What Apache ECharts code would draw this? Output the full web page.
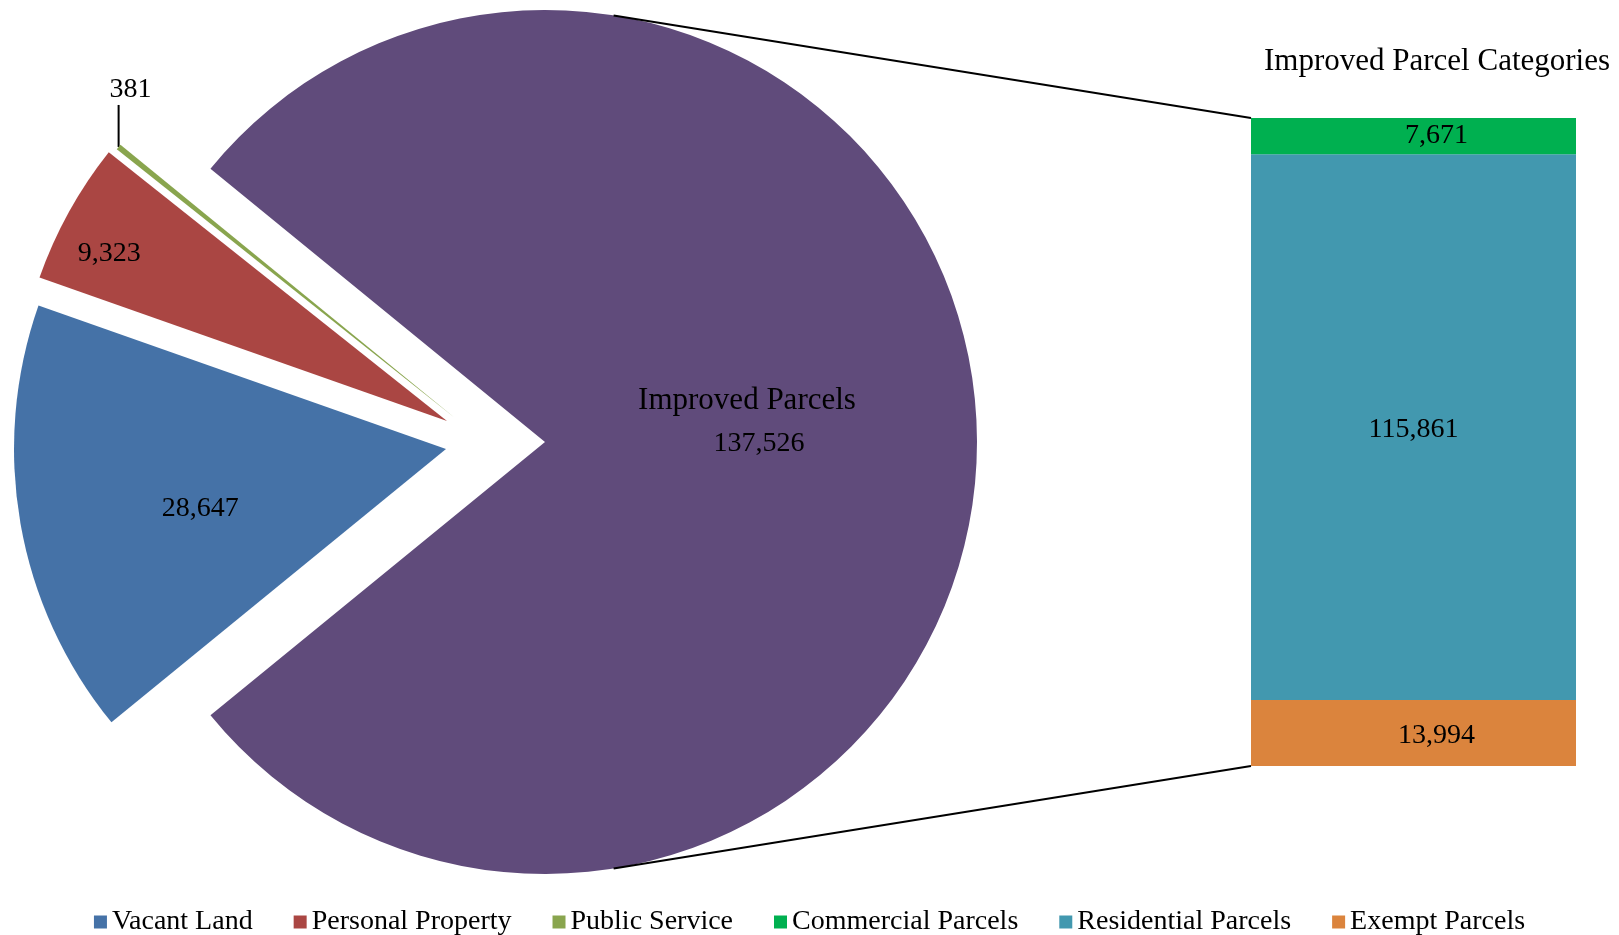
<!DOCTYPE html>
<html>
<head>
<meta charset="utf-8">
<title>Improved Parcels</title>
<script src="https://cdn.jsdelivr.net/npm/echarts@6/dist/echarts.min.js"></script>
<style>
  html, body { margin: 0; padding: 0; background: #fff; }
  #chart { width: 1619px; height: 935px; }
</style>
</head>
<body>
<div id="chart"></div>
<script>
// pie: order is the clockwise drawing order, Improved last
const pieNames = ['Vacant Land', 'Personal Property', 'Public Service', 'Improved Parcels'];
const pieValues = [28647, 9323, 381, 137526];
const pieColors = ['#4572A7', '#AA4643', '#89A54E', '#604B7B'];

// bar: bottom to top
const barNames = ['Exempt Parcels', 'Residential Parcels', 'Commercial Parcels'];
const barValues = [13994, 115861, 7671];
const barColors = ['#DB843D', '#4298AF', '#00B050'];

const legendNames = ['Vacant Land', 'Personal Property', 'Public Service',
  'Commercial Parcels', 'Residential Parcels', 'Exempt Parcels'];

// layout
const FONT = 'Liberation Serif';
const pieCenter = [545, 442];
const pieRadius = 432;
const explode = [[-99, 7], [-98, -21], [-90, -24], [0, 0]];
const pieLabelOffset = [[-30, 22], [-146, -61], [0, 0], [-17, -20]];
const barLabelOffset = [[23, 3], [0, 3], [23, 0]];
const grid = { left: 1251, top: 118, width: 325, height: 648 };

const sum = a => a.reduce((s, v) => s + v, 0);
const fmt = v => v.toLocaleString('en-US');

const pieTotal = sum(pieValues);
const startAngle = 180 + (pieTotal - pieValues[3]) / pieTotal * 180;

const blank = {
  itemStyle: { color: 'rgba(0,0,0,0)' },
  label: { show: false },
  labelLine: { show: false }
};

// outer edge point on the bisector of slice i
function edgePoint(i) {
  const before = sum(pieValues.slice(0, i));
  const a = (startAngle - (before + pieValues[i] / 2) / pieTotal * 360) * Math.PI / 180;
  const cx = pieCenter[0] + explode[i][0], cy = pieCenter[1] + explode[i][1];
  return [cx + pieRadius * Math.cos(a), cy - pieRadius * Math.sin(a)];
}

const pieSeries = pieValues.map((v, i) => {
  const before = sum(pieValues.slice(0, i));
  const after = sum(pieValues.slice(i + 1));
  const isPublic = i === 2;
  const isImproved = i === 3;
  const s = {
    type: 'pie',
    center: [pieCenter[0] + explode[i][0], pieCenter[1] + explode[i][1]],
    radius: pieRadius,
    startAngle: startAngle,
    clockwise: true,
    avoidLabelOverlap: false,
    silent: true,
    itemStyle: { borderWidth: 0 },
    data: [
      Object.assign({ value: before, name: '_b' + i }, blank),
      {
        value: v,
        name: pieNames[i],
        itemStyle: { color: pieColors[i] },
        label: {
          show: true,
          position: isPublic ? 'outside' : 'inside',
          offset: pieLabelOffset[i],
          color: '#000',
          fontFamily: FONT,
          fontSize: 28,
          formatter: isImproved
            ? '{a|Improved Parcels}\n{b|' + fmt(v) + '}'
            : fmt(v),
          rich: {
            a: { fontFamily: FONT, fontSize: 31, lineHeight: 43, color: '#000' },
            b: { fontFamily: FONT, fontSize: 28, lineHeight: 43, color: '#000', padding: [0, 0, 0, 24] }
          }
        },
        labelLine: {
          show: isPublic,
          length: 20,
          length2: 0,
          lineStyle: { color: '#000', width: 2 }
        }
      },
      Object.assign({ value: after, name: '_a' + i }, blank)
    ]
  };
  if (isPublic) {
    const e = edgePoint(i);
    s.labelLayout = function (p) {
      if (p.dataIndex !== 1) return {};
      return {
        x: e[0] + 12,
        y: e[1] - 57,
        align: 'center',
        verticalAlign: 'middle',
        labelLinePoints: [[e[0], e[1]], [e[0], e[1] - 42], [e[0], e[1] - 42]]
      };
    };
  }
  return s;
});

const barSeries = barValues.map((v, i) => ({
  type: 'bar',
  name: barNames[i],
  stack: 'improved',
  barWidth: '100%',
  silent: true,
  data: [v],
  itemStyle: { color: barColors[i] },
  label: {
    show: true,
    position: 'inside',
    offset: barLabelOffset[i],
    color: '#000',
    fontFamily: FONT,
    fontSize: 28,
    formatter: p => fmt(p.value)
  }
}));

// connector lines: tangents from the bar corners to the pie circle
function tangent(px, py, sign) {
  const dx = px - pieCenter[0], dy = py - pieCenter[1];
  const d = Math.hypot(dx, dy);
  const t = Math.atan2(dy, dx) + sign * Math.acos(pieRadius / d);
  return [pieCenter[0] + pieRadius * Math.cos(t), pieCenter[1] + pieRadius * Math.sin(t)];
}
const barBottom = grid.top + grid.height;
const tTop = tangent(grid.left, grid.top, -1);
const tBot = tangent(grid.left, barBottom, 1);

const chart = echarts.init(document.getElementById('chart'));
chart.setOption({
  animation: false,
  backgroundColor: '#fff',
  title: {
    text: 'Improved Parcel Categories',
    left: 1259,
    top: 41,
    textStyle: { fontFamily: FONT, fontSize: 31, fontWeight: 'normal', color: '#000' }
  },
  legend: {
    data: legendNames,
    left: 'center',
    top: 903,
    icon: 'rect',
    itemWidth: 13,
    itemHeight: 13,
    itemGap: 41,
    selectedMode: false,
    textStyle: { fontFamily: FONT, fontSize: 28, color: '#000' }
  },
  grid: Object.assign({ containLabel: false }, grid),
  xAxis: { type: 'category', data: [''], show: false },
  yAxis: { type: 'value', min: 0, max: sum(barValues), show: false },
  graphic: [
    { type: 'line', shape: { x1: tTop[0], y1: tTop[1], x2: grid.left, y2: grid.top },
      style: { stroke: '#000', lineWidth: 2 }, z: 10 },
    { type: 'line', shape: { x1: tBot[0], y1: tBot[1], x2: grid.left, y2: barBottom },
      style: { stroke: '#000', lineWidth: 2 }, z: 10 }
  ],
  series: pieSeries.concat(barSeries)
});
</script>
</body>
</html>
